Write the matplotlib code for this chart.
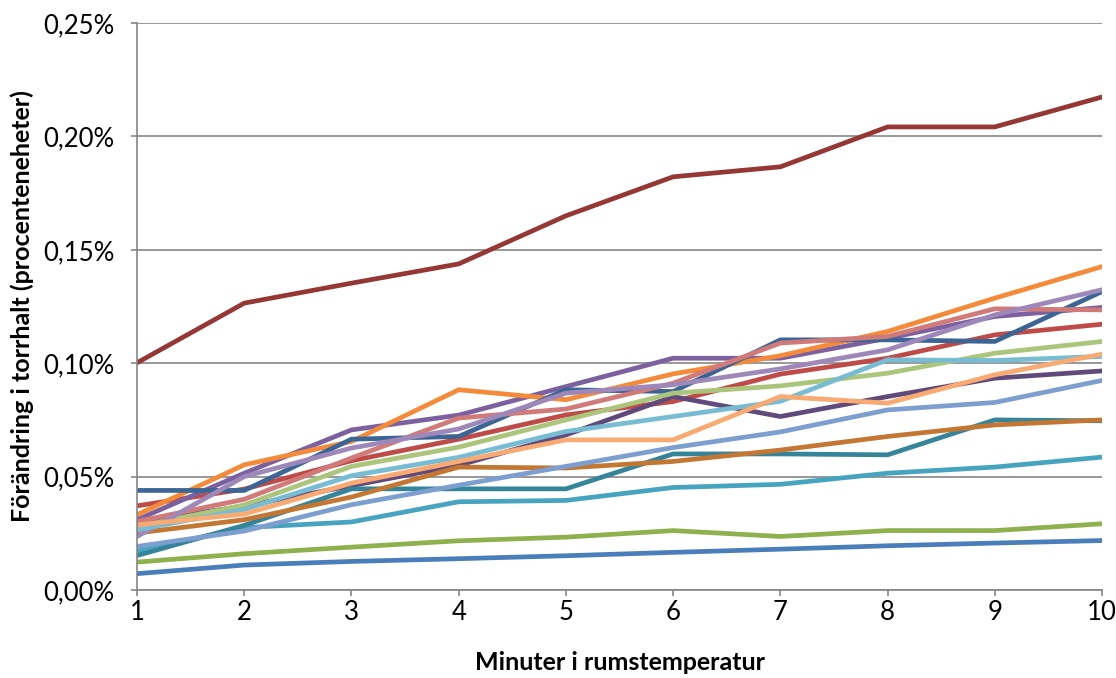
import matplotlib
matplotlib.use("Agg")
import matplotlib.pyplot as plt
from matplotlib.ticker import FuncFormatter, MultipleLocator

# Minutes at room temperature
minutes = [1, 2, 3, 4, 5, 6, 7, 8, 9, 10]

# Change in dry matter (percentage points), one list per sample
s_blue = [0.0072, 0.0110, 0.0126, 0.0138, 0.0151, 0.0166, 0.0180, 0.0195, 0.0207, 0.0218]
s_red = [0.0371, 0.0445, 0.0570, 0.0665, 0.0772, 0.0831, 0.0952, 0.1022, 0.1125, 0.1172]
s_green = [0.0123, 0.0160, 0.0189, 0.0217, 0.0233, 0.0262, 0.0236, 0.0262, 0.0262, 0.0292]
s_purple = [0.0310, 0.0515, 0.0706, 0.0771, 0.0897, 0.1022, 0.1022, 0.1110, 0.1206, 0.1246]
s_aqua = [0.0172, 0.0275, 0.0300, 0.0389, 0.0395, 0.0452, 0.0466, 0.0515, 0.0542, 0.0586]
s_orange = [0.0332, 0.0552, 0.0655, 0.0883, 0.0839, 0.0953, 0.1033, 0.1140, 0.1287, 0.1426]
s_dblue = [0.0439, 0.0439, 0.0665, 0.0677, 0.0883, 0.0875, 0.1103, 0.1103, 0.1096, 0.1316]
s_dred = [0.1002, 0.1265, 0.1353, 0.1438, 0.1650, 0.1822, 0.1866, 0.2042, 0.2042, 0.2174]
s_dpurple = [0.0300, 0.0370, 0.0460, 0.0550, 0.0684, 0.0853, 0.0765, 0.0853, 0.0934, 0.0966]
s_dteal = [0.0152, 0.0285, 0.0446, 0.0446, 0.0446, 0.0600, 0.0600, 0.0596, 0.0750, 0.0746]
s_dorange = [0.0251, 0.0310, 0.0410, 0.0542, 0.0538, 0.0567, 0.0617, 0.0677, 0.0728, 0.0750]
s_lblue = [0.0192, 0.0260, 0.0376, 0.0462, 0.0545, 0.0628, 0.0697, 0.0794, 0.0827, 0.0924]
s_pink = [0.0302, 0.0400, 0.0582, 0.0758, 0.0798, 0.0912, 0.1089, 0.1118, 0.1240, 0.1235]
s_lgreen = [0.0280, 0.0375, 0.0545, 0.0630, 0.0750, 0.0868, 0.0900, 0.0956, 0.1044, 0.1096]
s_lpurple = [0.0236, 0.0500, 0.0626, 0.0710, 0.0868, 0.0905, 0.0975, 0.1059, 0.1213, 0.1324]
s_laqua = [0.0265, 0.0355, 0.0504, 0.0585, 0.0699, 0.0765, 0.0832, 0.1015, 0.1012, 0.1030]
s_lorange = [0.0287, 0.0335, 0.0471, 0.0567, 0.0662, 0.0662, 0.0853, 0.0824, 0.0949, 0.1040]

series = [
    (s_blue, "#4a7ebb"), (s_red, "#be4b48"), (s_green, "#8eb04d"),
    (s_purple, "#7d60a0"), (s_aqua, "#46a4c0"), (s_orange, "#f38b3a"),
    (s_dblue, "#3a6594"), (s_dred, "#953735"), (s_dpurple, "#604a7b"),
    (s_dteal, "#35849a"), (s_dorange, "#c47633"), (s_lblue, "#7c9fcf"),
    (s_pink, "#d07b79"), (s_lgreen, "#abc67c"), (s_lpurple, "#9e88ba"),
    (s_laqua, "#78bcd3"), (s_lorange, "#f9aa72"),
]

plt.rcParams['font.family'] = ['Lato', 'DejaVu Sans']

fig = plt.figure(figsize=(11.16, 6.78), dpi=100)
ax = fig.add_axes([0.1228, 0.1298, 0.8647, 0.8362])

for vals, col in series:
    ax.plot(minutes, vals, color=col, lw=3.4, solid_joinstyle='round', solid_capstyle='round')

ax.set_xlim(1, 10)
ax.set_ylim(0, 0.25)
ax.set_xticks(minutes)
ax.yaxis.set_major_locator(MultipleLocator(0.05))
ax.yaxis.set_major_formatter(FuncFormatter(lambda v, p: f"{v:.2f}%".replace('.', ',')))

ax.grid(axis='y', color='#868686', lw=1.2)
ax.set_axisbelow(True)
for side in ['top', 'right']:
    ax.spines[side].set_visible(False)
for side in ['left', 'bottom']:
    ax.spines[side].set_color('#868686')
    ax.spines[side].set_linewidth(1.2)

ax.tick_params(axis='both', colors='#868686', length=4.5, width=1.2, labelsize=18.5, labelcolor='black')
ax.tick_params(axis='y', pad=12)
ax.tick_params(axis='x', pad=3)

ax.set_xlabel("Minuter i rumstemperatur", fontsize=18, fontweight='bold')
ax.set_ylabel("Förändring i torrhalt (procenteneheter)", fontsize=18, fontweight='bold')
ax.xaxis.label.set_va('center')
ax.yaxis.label.set_va('center')
ax.xaxis.set_label_coords(0.5, -0.128)
ax.yaxis.set_label_coords(-0.119, 0.5)

fig.savefig("out.png", dpi=100)
